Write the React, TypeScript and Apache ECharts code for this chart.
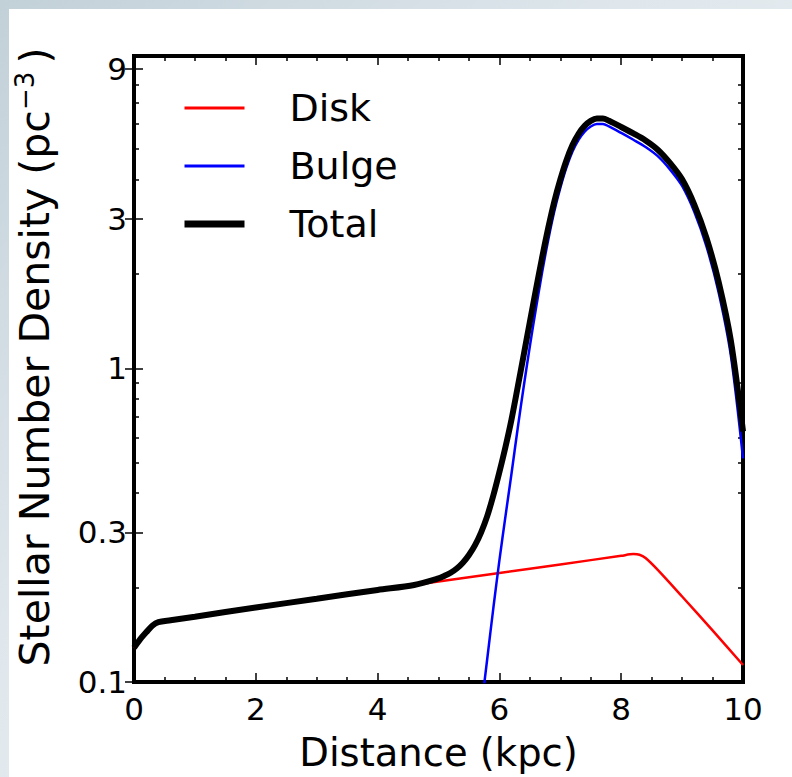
import React, { useEffect, useRef } from "react";
import * as echarts from "echarts";

const diskX = [0, 0.1, 0.2, 0.3, 0.4, 0.6, 1, 2, 3, 4, 5, 6, 7, 8, 8.2, 8.3, 8.4, 8.6, 9, 9.5, 10];
const diskY = [0.1286, 0.1368, 0.144, 0.1512, 0.1553, 0.1574, 0.1615, 0.1728, 0.1842, 0.1966, 0.209, 0.2225, 0.237, 0.2525, 0.2557, 0.2546, 0.2484, 0.2277, 0.1873, 0.1461, 0.1133];

const bulgeX = [5.7, 5.8, 5.9, 6.0, 6.1, 6.2, 6.3, 6.4, 6.5, 6.6, 6.7, 6.8, 6.9, 7.0, 7.1, 7.2, 7.3, 7.4, 7.5, 7.6, 7.7, 7.8, 8.0, 8.2, 8.4, 8.6, 8.8, 9.0, 9.2, 9.4, 9.6, 9.8, 10];
const bulgeY = [0.0817, 0.1184, 0.1718, 0.2442, 0.338, 0.4637, 0.643, 0.8765, 1.175, 1.551, 2.015, 2.557, 3.157, 3.758, 4.361, 4.911, 5.352, 5.683, 5.903, 6.014, 6.014, 5.903, 5.627, 5.352, 5.077, 4.748, 4.308, 3.815, 3.157, 2.449, 1.745, 1.1, 0.516];

const totalX = [0, 0.1, 0.2, 0.3, 0.4, 0.6, 1, 2, 3, 4, 4.6, 5.0, 5.1, 5.2, 5.3, 5.4, 5.5, 5.6, 5.7, 5.8, 5.9, 6.0, 6.1, 6.2, 6.3, 6.4, 6.5, 6.6, 6.7, 6.8, 6.9, 7.0, 7.1, 7.2, 7.3, 7.4, 7.5, 7.6, 7.7, 7.8, 8.0, 8.2, 8.4, 8.6, 8.8, 9.0, 9.2, 9.4, 9.6, 9.8, 10];
const totalY = [0.1286, 0.1368, 0.144, 0.1512, 0.1553, 0.1574, 0.1615, 0.1728, 0.1842, 0.1966, 0.2039, 0.214, 0.218, 0.223, 0.23, 0.24, 0.254, 0.273, 0.3, 0.338, 0.393, 0.467, 0.562, 0.689, 0.87, 1.105, 1.405, 1.782, 2.248, 2.791, 3.393, 3.995, 4.6, 5.151, 5.593, 5.926, 6.148, 6.26, 6.262, 6.152, 5.88, 5.608, 5.325, 4.976, 4.515, 4.002, 3.327, 2.604, 1.885, 1.226, 0.629];

const seriesNames = ["Disk", "Bulge", "Total"];
const seriesColors = ["#ff0000", "#0000ff", "#000000"];
const seriesWidths = [2.5, 2.5, 6];
const legendWidths = [3, 3, 7];

const xTicks = [0, 2, 4, 6, 8, 10];
const yMin = 0.1;
const yMax = 9.9;
const yMajorTicks = [0.1, 0.3, 1, 3, 9];
const yMinorTicks = [0.2, 0.4, 0.5, 0.6, 0.7, 0.8, 0.9, 2, 4, 5, 6, 7, 8];

const FONT = "DejaVu Sans";

function pairs(xs: number[], ys: number[]) {
  return xs.map((x, i) => [x, ys[i]]);
}

export default function App() {
  const ref = useRef<HTMLDivElement>(null);
  useEffect(() => {
    document.body.style.margin = "0";
    if (!ref.current) return;
    const chart = echarts.init(ref.current, null, { renderer: "svg" });
    const tickLine = { color: "#000", width: 1.5 };
    const xBase = {
      type: "value" as const,
      min: xTicks[0],
      max: xTicks[xTicks.length - 1],
      interval: 2,
      splitLine: { show: false },
      axisLine: { show: false },
      axisTick: { show: true, inside: true, length: 9, lineStyle: tickLine },
      minorTick: { show: true, splitNumber: 4, length: 5, lineStyle: tickLine },
    };
    const yBase = {
      type: "log" as const,
      logBase: 10,
      min: yMin,
      max: yMax,
      splitLine: { show: false },
      minorSplitLine: { show: false },
      axisLine: { show: false },
    };
    chart.setOption({
      animation: false,
      backgroundColor: "transparent",
      grid: {
        left: 134,
        right: 49,
        top: 56,
        bottom: 95,
        show: true,
        borderColor: "#000",
        borderWidth: 4,
        backgroundColor: "transparent",
      },
      legend: {
        orient: "vertical",
        left: 176,
        top: 84,
        itemWidth: 60,
        itemHeight: 14,
        itemGap: 20,
        textStyle: { fontFamily: FONT, fontSize: 38, color: "#000", padding: [0, 0, 0, 40] },
        data: seriesNames.map((n, i) => ({
          name: n,
          lineStyle: { color: seriesColors[i], width: legendWidths[i] },
          itemStyle: { color: "rgba(0,0,0,0)", borderColor: "rgba(0,0,0,0)", borderWidth: 0 },
        })),
      },
      xAxis: [
        {
          ...xBase,
          position: "bottom",
          name: "Distance (kpc)",
          nameLocation: "middle",
          nameGap: 51,
          nameTextStyle: { fontFamily: FONT, fontSize: 38.5, color: "#000" },
          axisLabel: { show: true, fontFamily: FONT, fontSize: 31, color: "#000", margin: 11 },
        },
        {
          ...xBase,
          position: "top",
          axisLabel: { show: false },
        },
      ],
      yAxis: [
        {
          ...yBase,
          position: "left",
          name: "Stellar Number Density (pc{sup|\u22123}\u2009)",
          nameLocation: "middle",
          nameRotate: 90,
          nameGap: 76,
          nameTextStyle: {
            fontFamily: FONT,
            fontSize: 41,
            color: "#000",
            padding: [0, 0, 0, 24],
            rich: { sup: { fontFamily: FONT, fontSize: 26, verticalAlign: "bottom", padding: [0, 0, 20, 0], color: "#000" } },
          },
          axisTick: { show: true, inside: true, length: 9, customValues: yMajorTicks, lineStyle: tickLine },
          axisLabel: {
            show: true,
            customValues: yMajorTicks,
            fontFamily: FONT,
            fontSize: 31,
            color: "#000",
            margin: 7,
            formatter: (v: number) => String(Math.round(v * 100) / 100),
          },
        },
        {
          ...yBase,
          position: "right",
          axisTick: { show: true, inside: true, length: 9, customValues: yMajorTicks, lineStyle: tickLine },
          axisLabel: { show: false },
        },
        {
          ...yBase,
          position: "left",
          axisTick: { show: true, inside: true, length: 5, customValues: yMinorTicks, lineStyle: tickLine },
          axisLabel: { show: false },
        },
        {
          ...yBase,
          position: "right",
          axisTick: { show: true, inside: true, length: 5, customValues: yMinorTicks, lineStyle: tickLine },
          axisLabel: { show: false },
        },
      ],
      series: [
        { x: diskX, y: diskY },
        { x: bulgeX, y: bulgeY },
        { x: totalX, y: totalY },
      ].map((d, i) => ({
        name: seriesNames[i],
        type: "line",
        xAxisIndex: 0,
        yAxisIndex: 0,
        data: pairs(d.x, d.y),
        showSymbol: false,
        symbol: "none",
        smooth: 0.3,
        clip: true,
        lineStyle: { color: seriesColors[i], width: seriesWidths[i] },
        itemStyle: { color: seriesColors[i] },
        z: 2 + i,
      })),
    });
    return () => chart.dispose();
  }, []);

  return (
    <div
      style={{
        position: "relative",
        width: 792,
        height: 777,
        background: "linear-gradient(135deg, #c2d0d8 0%, #dfe7ec 40%, #f3f6f8 100%)",
        overflow: "hidden",
      }}
    >
      <div style={{ position: "absolute", left: 9, top: 9, width: 783, height: 768, background: "#fff" }} />
      <div ref={ref} style={{ position: "absolute", left: 0, top: 0, width: 792, height: 777 }} />
    </div>
  );
}
